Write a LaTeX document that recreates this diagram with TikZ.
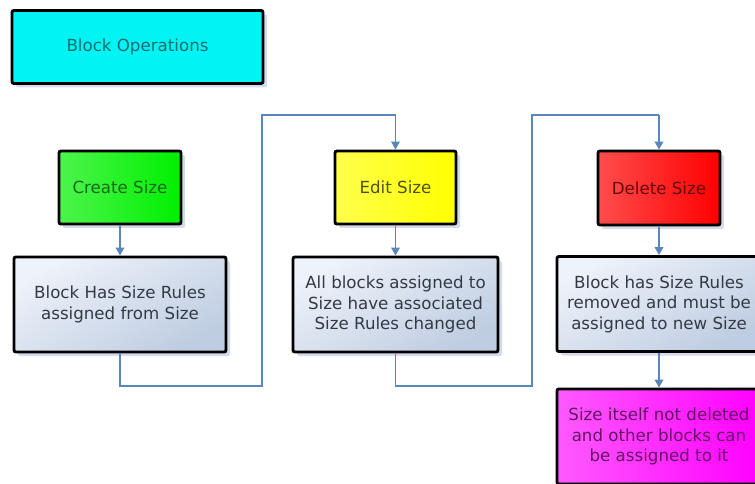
\documentclass[tikz,border=0pt]{standalone}
\usepackage{fontspec}
\setmainfont{DejaVu Sans}
\usetikzlibrary{arrows.meta,shadows}
\definecolor{wire}{HTML}{5A86BA}
\definecolor{shade}{HTML}{C9D3E6}
\definecolor{noteA}{HTML}{EEF2F9}
\definecolor{noteB}{HTML}{BFCDE2}
\definecolor{txt}{HTML}{333A44}
\definecolor{aqua}{HTML}{00F4F4}
\definecolor{lime}{HTML}{00F000}
\definecolor{lemon}{HTML}{FFFF00}
\definecolor{scarlet}{HTML}{FF0000}
\definecolor{fuchsia}{HTML}{FF00FF}
\tikzset{
  px/.style={x=0.75pt,y=-0.75pt},
  box/.style={draw=black,line width=2.2pt,rounded corners=1.5pt,align=center,
    font=\fontsize{12.5}{15.4}\selectfont,
    drop shadow={shadow xshift=3pt,shadow yshift=-3pt,fill=shade,opacity=0.8}},
  note/.style={box,top color=noteA,bottom color=noteB,shading angle=30,text=txt},
  flow/.style={draw=wire,line width=1.1pt,-{Triangle[width=6.5pt,length=6pt]}},
  link/.style={draw=wire,line width=1.1pt},
}
\begin{document}
\begin{tikzpicture}[px]
\useasboundingbox (0,0) rectangle (755,484);
\clip (0,0) rectangle (755,484);
% title
\node[box,fill=aqua,text={rgb,255:red,20;green,110;blue,110},
  minimum width=251*0.75pt,minimum height=73*0.75pt] (ops) at (137.5,47) {Block Operations};
% operation boxes
\node[box,left color=lime!70!white,right color=lime,
  text={rgb,255:red,30;green,100;blue,30},
  minimum width=122*0.75pt,minimum height=73*0.75pt] (create) at (120,187.5) {Create Size};
\node[box,left color=lemon!70!white,right color=lemon,text={rgb,255:red,80;green,80;blue,20},
  minimum width=121*0.75pt,minimum height=73*0.75pt] (edit) at (395.5,187.5) {Edit Size};
\node[box,left color=scarlet!70!white,right color=scarlet,text={rgb,255:red,100;green,10;blue,10},
  minimum width=122*0.75pt,minimum height=74*0.75pt] (delete) at (659,188) {Delete Size};
% result boxes
\node[note,minimum width=212*0.75pt,minimum height=95*0.75pt] (has) at (120,304.5)
  {Block Has Size Rules\\assigned from Size};
\node[note,minimum width=205*0.75pt,minimum height=95*0.75pt] (all) at (395.5,304.5)
  {All blocks assigned to\\Size have associated\\Size Rules changed};
\node[note,minimum width=204*0.75pt,minimum height=95*0.75pt] (removed) at (659,304)
  {Block has Size Rules\\removed and must be\\assigned to new Size};
\node[box,left color=fuchsia!65!white,right color=fuchsia,text={rgb,255:red,100;green,20;blue,100},
  minimum width=204*0.75pt,minimum height=95*0.75pt] (kept) at (659,436.5)
  {Size itself not deleted\\and other blocks can\\be assigned to it};
% routing points
\coordinate (a1) at (120,386);
\coordinate (a2) at (262,386);
\coordinate (a3) at (262,115);
\coordinate (a4) at (395.5,115);
\coordinate (b1) at (395.5,386);
\coordinate (b2) at (532,386);
\coordinate (b3) at (532,115);
\coordinate (b4) at (659,115);
% connectors
\draw[flow] (create) -- (has);
\draw[flow] (edit) -- (all);
\draw[flow] (delete) -- (removed);
\draw[flow] (removed) -- (kept);
\draw[link] (has.south) -- (a1) -- (a2) -- (a3) -- (a4);
\draw[flow] (a4) -- (edit.north);
\draw[link] (all.south) -- (b1) -- (b2) -- (b3) -- (b4);
\draw[flow] (b4) -- (delete.north);
\end{tikzpicture}
\end{document}
